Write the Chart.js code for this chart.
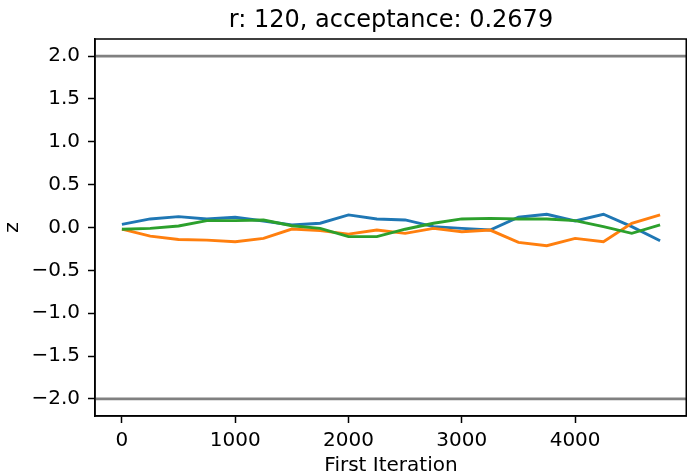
<!DOCTYPE html>
<html>
<head>
<meta charset="utf-8">
<script src="https://cdn.jsdelivr.net/npm/chart.js@4"></script>
<style>
  html, body { margin: 0; padding: 0; background: #fff; }
</style>
</head>
<body>
<canvas id="trace" width="687" height="476"></canvas>
<script>
// iteration at which each window starts
const iterations = [0, 250, 500, 750, 1000, 1250, 1500, 1750, 2000, 2250,
                    2500, 2750, 3000, 3250, 3500, 3750, 4000, 4250, 4500, 4750];

// z means for the three chains
const chainA = [0.037, 0.10, 0.127, 0.10, 0.12, 0.076, 0.03, 0.05, 0.147, 0.10,
                0.088, 0.01, -0.01, -0.03, 0.12, 0.155, 0.076, 0.155, 0.01, -0.155];
const chainB = [-0.02, -0.10, -0.14, -0.147, -0.166, -0.127, -0.018, -0.037, -0.077, -0.03,
                -0.068, -0.01, -0.049, -0.03, -0.174, -0.213, -0.127, -0.166, 0.049, 0.147];
const chainC = [-0.02, -0.01, 0.017, 0.08, 0.08, 0.088, 0.02, -0.01, -0.107, -0.107,
                -0.02, 0.05, 0.10, 0.107, 0.10, 0.10, 0.08, 0.01, -0.068, 0.03];

// reference levels (+/- 2 sigma)
const limitLines = [2, -2];

const xTicks = [0, 1000, 2000, 3000, 4000];
const yTicks = [-2, -1.5, -1, -0.5, 0, 0.5, 1, 1.5, 2];

const titleText = 'r: 120, acceptance: 0.2679';

// matplotlib-style 5% margins around the data
const xPad = (iterations[iterations.length - 1] - iterations[0]) * 0.05;
const xMin = iterations[0] - xPad;
const xMax = iterations[iterations.length - 1] + xPad;
const yPad = (limitLines[0] - limitLines[1]) * 0.05;

const FONT = 'DejaVu Sans';
const LW = 2.9;

function series(values, color, order) {
  return {
    data: iterations.map((x, i) => ({ x: x, y: values[i] })),
    borderColor: color,
    borderWidth: LW,
    pointRadius: 0,
    tension: 0,
    fill: false,
    order: order
  };
}

const datasets = [
  series(chainA, '#1f77b4', 3),
  series(chainB, '#ff7f0e', 2),
  series(chainC, '#2ca02c', 1)
];
limitLines.forEach(v => {
  datasets.push({
    data: [{ x: xMin, y: v }, { x: xMax, y: v }],
    borderColor: '#808080',
    borderWidth: LW,
    pointRadius: 0,
    order: 4
  });
});

// black box around the plotting area
const frame = {
  id: 'frame',
  afterDraw(chart) {
    const a = chart.chartArea;
    const ctx = chart.ctx;
    ctx.save();
    ctx.strokeStyle = '#000';
    ctx.lineWidth = 1.5;
    ctx.strokeRect(a.left, a.top, a.right - a.left - 0.75, a.bottom - a.top);
    ctx.restore();
  }
};

const fmtY = v => {
  const s = Number(v).toFixed(1);
  return s.startsWith('-') ? '\u2212' + s.slice(1) : s;
};

new Chart(document.getElementById('trace').getContext('2d'), {
  type: 'line',
  data: { datasets: datasets },
  plugins: [frame],
  options: {
    responsive: false,
    animation: false,
    layout: { padding: 0 },
    plugins: {
      legend: { display: false },
      tooltip: { enabled: false },
      title: {
        display: true,
        fullSize: false,   // centre over the axes, not the canvas
        text: titleText,
        color: '#000',
        font: { family: FONT, size: 24, weight: 'normal', lineHeight: 1.2 },
        padding: { top: 6.4, bottom: 3.8 }
      }
    },
    scales: {
      x: {
        type: 'linear',
        min: xMin,
        max: xMax,
        afterBuildTicks: s => { s.ticks = xTicks.map(v => ({ value: v })); },
        afterFit: s => { s.height = 60; },
        ticks: {
          color: '#000',
          padding: 6,
          maxRotation: 0,
          font: { family: FONT, size: 20 },
          callback: v => String(v)
        },
        grid: {
          drawOnChartArea: false,
          drawTicks: true,
          tickLength: 7,
          tickColor: '#000',
          tickWidth: 1.5
        },
        border: { display: true, color: '#000', width: 1.5 },
        title: {
          display: true,
          text: 'First Iteration',
          color: '#000',
          font: { family: FONT, size: 20, lineHeight: 1.0 },
          padding: { top: 0, bottom: 0 }
        }
      },
      y: {
        type: 'linear',
        min: limitLines[1] - yPad,
        max: limitLines[0] + yPad,
        afterBuildTicks: s => { s.ticks = yTicks.map(v => ({ value: v })); },
        afterFit: s => { s.width = 95; },
        ticks: {
          color: '#000',
          padding: 8,
          font: { family: FONT, size: 20 },
          callback: fmtY
        },
        grid: {
          drawOnChartArea: false,
          drawTicks: true,
          tickLength: 7,
          tickColor: '#000',
          tickWidth: 1.5
        },
        border: { display: true, color: '#000', width: 1.5 },
        title: {
          display: true,
          text: 'z',
          color: '#000',
          font: { family: FONT, size: 20, lineHeight: 1.2 },
          padding: { top: 1, bottom: 0 }
        }
      }
    }
  }
});
</script>
</body>
</html>
